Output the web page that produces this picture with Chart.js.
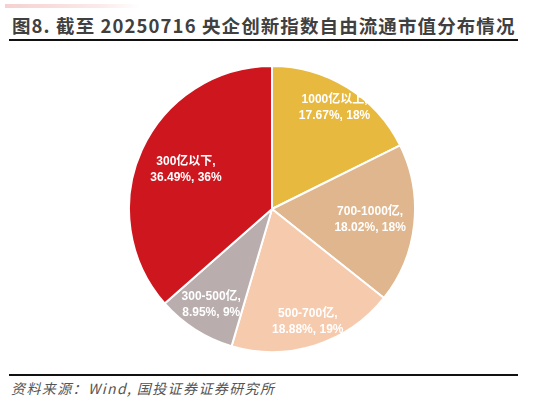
<!DOCTYPE html>
<html>
<head>
<meta charset="utf-8">
<script src="https://cdn.jsdelivr.net/npm/chart.js@4"></script>
<style>
  html, body { margin: 0; padding: 0; background: #fff; }
  body { width: 541px; height: 402px; position: relative; overflow: hidden;
         font-family: "Noto Sans CJK SC", "Liberation Sans", sans-serif; }
  #topbar { position: absolute; left: 5px; top: 4px; width: 135px; height: 4px;
            background: linear-gradient(to right, #f6d0d0, #fbeaea 70%, #fff); }
  #title { position: absolute; left: 12px; top: 12px; font-size: 18.5px; font-weight: bold;
           color: #404040; white-space: nowrap; letter-spacing: 1.1px; }
  .rule { position: absolute; left: 9px; width: 509px; height: 2px; background: #111; }
  #source { position: absolute; left: 11px; top: 378px; font-size: 14px; font-style: italic;
            color: #555; white-space: nowrap; letter-spacing: 1.4px; }
  #wrap { position: absolute; left: 127px; top: 64px; width: 290px; height: 290px; }
</style>
</head>
<body>
<div id="topbar"></div>
<div id="title">图8. 截至 20250716 央企创新指数自由流通市值分布情况</div>
<div class="rule" style="top:39px"></div>
<div id="wrap"><canvas id="pie"></canvas></div>
<div class="rule" style="top:374px"></div>
<div id="source">资料来源：Wind,  国投证券证券研究所</div>
<script>
const categories = ['1000亿以上', '700-1000亿', '500-700亿', '300-500亿', '300亿以下'];
const shares     = [17.67, 18.02, 18.88, 8.95, 36.49];
const rounded    = ['18%', '18%', '19%', '9%', '36%'];

const colors     = ['#E8B93F', '#DFB68D', '#F6CAAD', '#B9AEAD', '#CE161F'];
const labelDist  = [0.83, 0.69, 0.83, 0.79, 0.66];

const sliceLabels = {
  id: 'sliceLabels',
  afterDatasetsDraw(chart) {
    const ctx = chart.ctx;
    const meta = chart.getDatasetMeta(0);
    ctx.save();
    ctx.fillStyle = '#fff';
    ctx.font = 'bold 12px "Liberation Sans", "Noto Sans CJK SC", sans-serif';
    ctx.textAlign = 'center';
    ctx.textBaseline = 'middle';
    meta.data.forEach((arc, i) => {
      const mid = (arc.startAngle + arc.endAngle) / 2;
      const r = arc.outerRadius * labelDist[i];
      const x = arc.x + Math.cos(mid) * r;
      const y = arc.y + Math.sin(mid) * r;
      ctx.fillText(categories[i] + ',', x, y - 8);
      ctx.fillText(shares[i].toFixed(2) + '%, ' + rounded[i], x, y + 8);
    });
    ctx.restore();
  }
};

new Chart(document.getElementById('pie'), {
  type: 'pie',
  data: {
    labels: categories,
    datasets: [{
      data: shares,
      backgroundColor: colors,
      borderColor: '#fff',
      borderWidth: 2
    }]
  },
  options: {
    responsive: true,
    maintainAspectRatio: false,
    animation: false,
    layout: { padding: 1 },
    plugins: { legend: { display: false }, tooltip: { enabled: false } }
  },
  plugins: [sliceLabels]
});
</script>
</body>
</html>
